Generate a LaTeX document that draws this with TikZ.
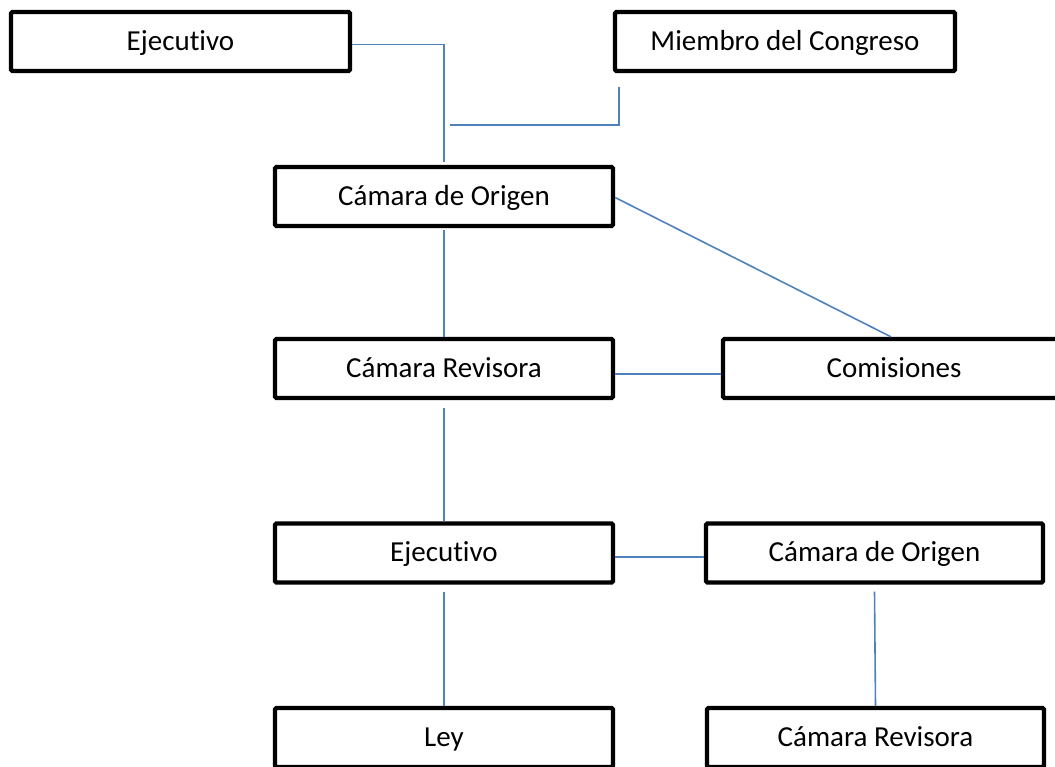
\documentclass[tikz,border=0pt]{standalone}
\usepackage{fontspec}
\setmainfont{Carlito}[Ligatures=NoCommon]
\definecolor{azul}{RGB}{79,129,189}
\tikzset{
  caja/.style={draw=black,line width=4.3pt,rounded corners=1.5pt,minimum width=338pt,minimum height=59pt,
    inner sep=0pt,text height=22pt,text depth=5pt,font=\fontsize{29}{34}\selectfont},
  enlace/.style={draw=azul,line width=1.6pt}
}

\begin{document}
\begin{tikzpicture}[x=1pt,y=-1pt]
\useasboundingbox (0,0) rectangle (1055,766);
\clip (0,0) rectangle (1055,766);

\node[caja,minimum width=339pt] (ej1) at (180.5,41.5) {Ejecutivo};
\node[caja,minimum width=340pt] (miembro) at (785,41.5) {Miembro del Congreso};
\node[caja] (cdo) at (444,196.5) {Cámara de Origen};
\node[caja] (cr) at (444,368.5) {Cámara Revisora};
\node[caja,minimum width=342pt] (comis) at (894,368.5) {Comisiones};
\node[caja] (ej2) at (444,553) {Ejecutivo};
\node[caja,minimum width=337pt] (cdo2) at (874.5,553) {Cámara de Origen};
\node[caja] (ley) at (444,737.5) {Ley};
\node[caja,minimum width=337pt] (cr2) at (875.5,737.5) {Cámara Revisora};

\coordinate (junta) at (450,125);

\draw[enlace] ([yshift=-3pt]ej1.east) -| ([yshift=3pt]cdo.north);
\draw[enlace] ([xshift=6pt,yshift=-14pt]miembro.south west) |- (junta);
\draw[enlace] ([yshift=-2pt]cdo.south) -- (cr.north);
\draw[enlace] ([yshift=-1pt]cdo.east) -- ([xshift=-3pt]comis.north);
\draw[enlace] ([yshift=-5.5pt]cr.east) -- ([yshift=-5.5pt]comis.west);
\draw[enlace] ([yshift=-8pt]cr.south) -- (ej2.north);
\draw[enlace] ([yshift=-4pt]ej2.east) -- ([yshift=-4pt]cdo2.west);
\draw[enlace] ([yshift=-7pt]ej2.south) -- (ley.north);
\draw[enlace] ([yshift=-7pt]cdo2.south) -- (cr2.north);

\end{tikzpicture}
\end{document}
